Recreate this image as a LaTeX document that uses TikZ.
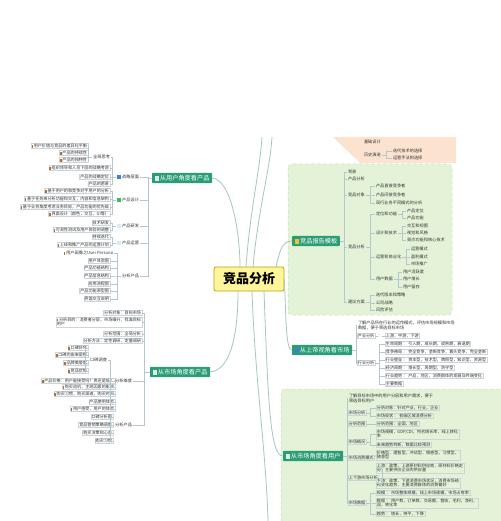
\documentclass[tikz,border=0pt]{standalone}
\usepackage{fontspec}
\setmainfont{Noto Sans CJK SC}
\definecolor{topic}{HTML}{2A9D74}
\definecolor{cfill}{HTML}{FFF59A}
\definecolor{cdraw}{HTML}{B8A600}
\definecolor{lnc}{HTML}{A3C9BC}
\definecolor{brk}{HTML}{B4C7D1}
\definecolor{leafb}{HTML}{CBD5DA}
\definecolor{gbg}{HTML}{E4F3D8}
\definecolor{gbd}{HTML}{BFE0A8}
\definecolor{peach}{HTML}{FBE3D0}
\definecolor{txt}{HTML}{333333}
\definecolor{mkc}{HTML}{B5702E}
\definecolor{icb}{HTML}{3F7FD0}
\definecolor{icg}{HTML}{3DBA5E}
\definecolor{icy}{HTML}{F2C230}
\definecolor{icw}{HTML}{DDE8F0}
\tikzset{
 lf/.style={draw=leafb, line width=0.25pt, inner xsep=0.8pt, inner ysep=0.6pt, font=\fontsize{4.1}{4.8}\selectfont, text=txt, align=left},
 lb/.style={inner xsep=0.8pt, inner ysep=0.6pt, font=\fontsize{4.2}{5}\selectfont, text=txt, align=left},
 tp/.style={fill=topic, text=white, font=\fontsize{6.2}{7}\selectfont, inner xsep=2.5pt, inner ysep=2.3pt, rounded corners=0.8pt},
 br/.style={draw=brk, line width=0.35pt},
 mn/.style={draw=lnc, line width=0.8pt},
}
\newcommand\mk{{\color{mkc}\rule{1.4pt}{2.4pt}}\hspace{0.8pt}}
\newcommand\ico[1]{{\color{#1}\rule[-0.3pt]{4.2pt}{4.2pt}}\hspace{1.2pt}}
\newcommand\lkc[2]{\draw[br] (#1.west) -- ++(-4,0) |- (#2.east);}
\newcommand\rkc[2]{\draw[br] (#1.east) -- ++(4,0) |- (#2.west);}
\begin{document}
\begin{tikzpicture}[x=1pt,y=-1pt]
\useasboundingbox[fill=white] (0,0) rectangle (500,521);
% background regions
\fill[peach] (333,137) -- (456,137) -- (456,163) -- (360,163) -- cycle;
\draw[gbd, fill=gbg, dashed, line width=0.5pt, rounded corners=4pt] (288,164) rectangle (452,315);
\draw[gbd, fill=gbg, dashed, line width=0.5pt, rounded corners=4pt] (281,389) rectangle (506,530);

% center
\node[fill=cfill, draw=cdraw, line width=0.8pt, rounded corners=2pt, minimum width=70pt, minimum height=24pt, font=\fontsize{13}{15}\selectfont\bfseries, text=black] (C) at (249,279) {竞品分析};

% main topics
\node[tp] (T1) at (182,178) {\ico{icw}从用户角度看产品};
\node[tp] (T2) at (180,372) {\ico{icw}从市场角度看产品};
\node[tp] (R1) at (316,241) {\ico{icy}竞品报告模板};
\node[tp] (R2) at (322,350) {\ico{icb}从上帝视角看市场};
\node[tp] (R3) at (313,456) {\ico{icw}从市场角度看用户};

% main connectors
\coordinate (up1) at (262,137);
\coordinate (up2) at (272,137);
\coordinate (dn1) at (268,521);
\draw[mn] (T1.east) .. controls (232,180) and (240,235) .. (240,267);
\draw[mn] (246,267) .. controls (250,210) and (260,170) .. (up1);
\draw[mn] (253,267) .. controls (258,210) and (270,170) .. (up2);
\draw[mn] (T2.east) .. controls (232,370) and (238,330) .. (238,291);
\draw[mn] (252,291) .. controls (255,380) and (266,450) .. (dn1);
\draw[mn] (276,267) .. controls (280,250) and (282,241) .. (R1.west);
\draw[mn] (C.east) .. controls (286,320) and (286,350) .. (R2.west);
\draw[mn] (264,291) .. controls (268,400) and (270,456) .. (R3.west);

% ---------- left: user group ----------
\node[lf, anchor=east] (u1) at (88,146) {\mk 用户价值与竞品的差异化平衡};
\node[lf, anchor=east] (u2) at (88,153) {\mk 产品的持续性};
\node[lf, anchor=east] (u3) at (88,160) {\mk 产品的独特性};
\node[lb, anchor=east] (q1) at (111,157) {全局思考};
\node[lf, anchor=east] (u4) at (110,168) {\mk 组织领导和人员下层的战略考虑};
\node[lf, anchor=east] (u5) at (110,177) {产品的战略定位};
\node[lf, anchor=east] (u6) at (110,184) {产品的愿景};
\node[lb, anchor=east] (g1) at (140,177) {\ico{icb}战略层面};
\node[lf, anchor=east] (u7) at (110,191) {\mk 基于用户的和竞争对手用户的分析};
\node[lf, anchor=east] (u8) at (110,199) {\mk 基于任务来分析功能和交互，内容和信息架构};
\node[lf, anchor=east] (u9) at (110,207) {\mk 基于业务角度考虑业务目标，产品功能的优先级};
\node[lf, anchor=east] (u10) at (110,214) {\mk 界面设计（颜色，交互，UI等）};
\node[lb, anchor=east] (g2) at (140,200) {\ico{icg}产品设计};
\node[lf, anchor=east] (u11) at (110,223) {技术研发};
\node[lf, anchor=east] (u12) at (110,230) {\mk 可测性测试及用户体验的调整};
\node[lb, anchor=east] (g3) at (140,226) {\ico{icw}产品研发};
\node[lf, anchor=east] (u13) at (110,237) {持续迭代};
\node[lf, anchor=east] (u14) at (110,245) {\mk 上线和推广产品的运营计划};
\node[lb, anchor=east] (g4) at (140,243) {\ico{icw}产品运营};
\node[lb, anchor=east] (u15) at (114,253) {\mk 用户画像之User Persona};
\node[lf, anchor=east] (u16) at (110,261) {用户体验图};
\node[lf, anchor=east] (u17) at (110,268) {产品功能结构};
\node[lf, anchor=east] (u18) at (110,276) {产品信息结构};
\node[lf, anchor=east] (u19) at (110,284) {应用流程图};
\node[lf, anchor=east] (u20) at (110,291) {产品功能原型图};
\node[lf, anchor=east] (u21) at (110,299) {界面交互说明};
\node[lb, anchor=east] (g5) at (140,276) {分析产品};

\lkc{q1}{u1}\lkc{q1}{u2}\lkc{q1}{u3}
\lkc{g1}{q1}\lkc{g1}{u4}\lkc{g1}{u5}\lkc{g1}{u6}
\lkc{g2}{u7}\lkc{g2}{u8}\lkc{g2}{u9}\lkc{g2}{u10}
\lkc{g3}{u11}\lkc{g3}{u12}
\lkc{g4}{u13}\lkc{g4}{u14}
\lkc{g5}{u15}\lkc{g5}{u16}\lkc{g5}{u17}\lkc{g5}{u18}\lkc{g5}{u19}\lkc{g5}{u20}\lkc{g5}{u21}
\lkc{T1}{g1}\lkc{T1}{g2}\lkc{T1}{g3}\lkc{T1}{g4}\lkc{T1}{g5}

% ---------- left: market group ----------
\node[lf, anchor=east] (m1) at (142,313) {分析对象：目标市场};
\node[lf, anchor=east] (m2) at (142,322) {\mk 分析目的：消费者分层，市场细分，找准目标\\用户};
\node[lf, anchor=east] (m3) at (142,334) {分析范围：全局分析};
\node[lf, anchor=east] (m4) at (142,341) {分析方法：定性调研，定量调研};
\node[lf, anchor=east] (k1) at (88,348) {\mk 口碑好坏};
\node[lf, anchor=east] (k2) at (88,355) {\mk 口碑的由来是哪};
\node[lf, anchor=east] (k3) at (88,363) {\mk 品牌美誉度};
\node[lf, anchor=east] (k4) at (88,371) {\mk 竞品优势};
\node[lb, anchor=east] (kk) at (108,360) {口碑调查};
\node[lf, anchor=east] (a1) at (115,381) {\mk 产品价格：用户能接受吗？贵还是低？};
\node[lf, anchor=east] (a2) at (115,387) {\mk 购买动机，主观因素的影响};
\node[lf, anchor=east] (a3) at (115,394) {\mk 购买习惯，购买渠道，购买时间};
\node[lf, anchor=east] (a4) at (115,402) {产品使用体验};
\node[lf, anchor=east] (a5) at (115,409) {\mk 用户感受，用户的体验};
\node[lb, anchor=east] (m5) at (133,381) {分析维度};
\node[lf, anchor=east] (b1) at (113,417) {口碑分析图};
\node[lf, anchor=east] (b2) at (113,425) {竞品营销策略调查};
\node[lf, anchor=east] (b3) at (113,433) {购买决策和心态};
\node[lf, anchor=east] (b4) at (113,441) {购买习惯};
\node[lb, anchor=east] (m6) at (133,425) {分析产品};

\lkc{kk}{k1}\lkc{kk}{k2}\lkc{kk}{k3}\lkc{kk}{k4}
\lkc{m5}{kk}\lkc{m5}{a1}\lkc{m5}{a2}\lkc{m5}{a3}\lkc{m5}{a4}\lkc{m5}{a5}
\lkc{m6}{b1}\lkc{m6}{b2}\lkc{m6}{b3}\lkc{m6}{b4}
\draw[br] (T2.west) -- (144,372) |- (m1.east);
\draw[br] (T2.west) -- (144,372) |- (m2.east);
\draw[br] (T2.west) -- (144,372) |- (m3.east);
\draw[br] (T2.west) -- (144,372) |- (m4.east);
\draw[br] (T2.west) -- (144,372) |- (m5.east);
\draw[br] (T2.west) -- (144,372) |- (m6.east);

% ---------- top peach ----------
\node[lb, anchor=west] (p1) at (363,142) {基础设计};
\node[lb, anchor=west] (p2) at (363,155) {历史演进};
\node[lb, anchor=west] (p21) at (392,151) {迭代技术的选择};
\node[lb, anchor=west] (p22) at (392,158) {运营手法的选择};
\rkc{p2}{p21}\rkc{p2}{p22}

% ---------- right: report template ----------
\node[lb, anchor=west] (r1) at (347,172) {背景};
\node[lb, anchor=west] (r2) at (347,179) {产品分析};
\node[lb, anchor=west] (r3) at (347,195) {竞品对象};
\node[lb, anchor=west] (r31) at (375,186) {产品直接竞争者};
\node[lb, anchor=west] (r32) at (375,195) {产品间接竞争者};
\node[lb, anchor=west] (r33) at (375,203) {现行业务不同模式的分析};
\node[lb, anchor=west] (r4) at (347,247) {竞品分析};
\node[lb, anchor=west] (r41) at (375,214) {定位和功能};
\node[lb, anchor=west] (r411) at (406,211) {产品定位};
\node[lb, anchor=west] (r412) at (406,218) {产品功能};
\node[lb, anchor=west] (r42) at (375,233) {设计和技术};
\node[lb, anchor=west] (r421) at (406,226) {交互和视图};
\node[lb, anchor=west] (r422) at (406,233) {视觉和风格};
\node[lb, anchor=west] (r423) at (406,240) {亮点功能和核心技术};
\node[lb, anchor=west] (r43) at (375,257) {运营和商业化};
\node[lb, anchor=west] (r431) at (410,249) {运营模式};
\node[lb, anchor=west] (r432) at (410,257) {盈利模式};
\node[lb, anchor=west] (r433) at (410,264) {市场推广};
\node[lb, anchor=west] (r44) at (375,279) {用户数据};
\node[lb, anchor=west] (r441) at (402,272) {用户活跃度};
\node[lb, anchor=west] (r442) at (402,279) {用户增长};
\node[lb, anchor=west] (r443) at (402,287) {用户留存};
\node[lb, anchor=west] (r5) at (347,302) {建议方案};
\node[lb, anchor=west] (r51) at (375,295) {迭代版本和策略};
\node[lb, anchor=west] (r52) at (375,303) {公司战略};
\node[lb, anchor=west] (r53) at (375,310) {风险评估};
\rkc{R1}{r1}\rkc{R1}{r2}\rkc{R1}{r3}\rkc{R1}{r4}\rkc{R1}{r5}
\rkc{r3}{r31}\rkc{r3}{r32}\rkc{r3}{r33}
\rkc{r4}{r41}\rkc{r4}{r42}\rkc{r4}{r43}\rkc{r4}{r44}
\rkc{r41}{r411}\rkc{r41}{r412}
\rkc{r42}{r421}\rkc{r42}{r422}\rkc{r42}{r423}
\rkc{r43}{r431}\rkc{r43}{r432}\rkc{r43}{r433}
\rkc{r44}{r441}\rkc{r44}{r442}\rkc{r44}{r443}
\rkc{r5}{r51}\rkc{r5}{r52}\rkc{r5}{r53}

% ---------- right: god view ----------
\node[lb, anchor=west] (s0) at (357,325) {了解产品所在行业的运作模式，评估市场规模和市场\\数据，便于筛选目标市场};
\node[lf, anchor=west] (s1) at (357,336) {产业分析};
\node[lf, anchor=west] (s11) at (385,336) {上游，中游，下游};
\node[lf, anchor=west] (s2) at (357,363) {行业分析};
\node[lf, anchor=west] (s21) at (385,344) {生命周期 ： 引入期，成长期，成熟期，衰退期};
\node[lf, anchor=west] (s22) at (385,352) {竞争格局 ： 完全竞争，垄断竞争，寡头竞争，完全垄断};
\node[lf, anchor=west] (s23) at (385,360) {行业壁垒 ： 资本型，技术型，牌照型，知识型，资源型};
\node[lf, anchor=west] (s24) at (385,368) {经济周期 ： 增长型，周期型，防守型};
\node[lf, anchor=west] (s25) at (385,376) {行业趋势 ： 产品，地区，消费群体的发展及终端变化};
\node[lf, anchor=west] (s26) at (385,384) {主要数据};
\rkc{R2}{s0}\rkc{R2}{s1}\rkc{R2}{s2}
\draw[br] (s1.east) -- node[lb, fill=white, inner sep=0.2pt] {：} (s11.west);
\rkc{s2}{s21}\rkc{s2}{s22}\rkc{s2}{s23}\rkc{s2}{s24}\rkc{s2}{s25}\rkc{s2}{s26}

% ---------- right: market -> users ----------
\node[lb, anchor=west] (t0) at (348,398) {了解目标市场中的用户分层和用户需求，便于\\筛选目标用户};
\node[lf, anchor=west] (t1) at (348,413) {市场分析};
\node[lf, anchor=west] (t11) at (376,408) {分析对象：针对产业，行业，企业};
\node[lf, anchor=west] (t12) at (376,416) {市场现状 ： 初级区域消费分析};
\node[lf, anchor=west] (t2) at (348,424) {分析范围};
\node[lf, anchor=west] (t21) at (376,424) {分析范围：全国，地区};
\node[lf, anchor=west] (t3) at (348,442) {市场概况};
\node[lf, anchor=west] (t31) at (376,434) {市场规模，GDP,CDI，符合增长率，线上转化\\率};
\node[lf, anchor=west] (t32) at (376,445) {未来趋势判断，数据比较预测};
\node[lf, anchor=west] (t4) at (348,458) {市场消费模式};
\node[lf, anchor=west] (t41) at (376,455) {价格型，理智型，冲动型，情感型，习惯型，\\随意型};
\node[lf, anchor=west] (t5) at (348,478) {上下游市场分析};
\node[lf, anchor=west] (t51) at (376,468) {上游：政策，上游原材料供应商，原材料价格走\\势，主要供应企业的供应量};
\node[lf, anchor=west] (t52) at (376,483) {下游：政策，下游消费市场状况，消费市场结\\构变化趋势，主要消费群体的消费偏好};
\node[lf, anchor=west] (t6) at (348,503) {市场数据};
\node[lf, anchor=west] (t61) at (376,493) {规模 ： 市场整体规模，线上市场规模，市场占有率};
\node[lf, anchor=west] (t62) at (376,503) {数据 ： 用户数，订单数，交易额，营收，毛利，净利，\\润，转化率};
\node[lf, anchor=west] (t63) at (376,514) {趋势 ： 增长，持平，下降};
\rkc{R3}{t0}\rkc{R3}{t1}\rkc{R3}{t2}\rkc{R3}{t3}\rkc{R3}{t4}\rkc{R3}{t5}\rkc{R3}{t6}
\rkc{t1}{t11}\rkc{t1}{t12}
\draw[br] (t2.east) -- (t21.west);
\rkc{t3}{t31}\rkc{t3}{t32}
\draw[br] (t4.east) -- (t41.west);
\rkc{t5}{t51}\rkc{t5}{t52}
\rkc{t6}{t61}\rkc{t6}{t62}\rkc{t6}{t63}
\end{tikzpicture}
\end{document}
